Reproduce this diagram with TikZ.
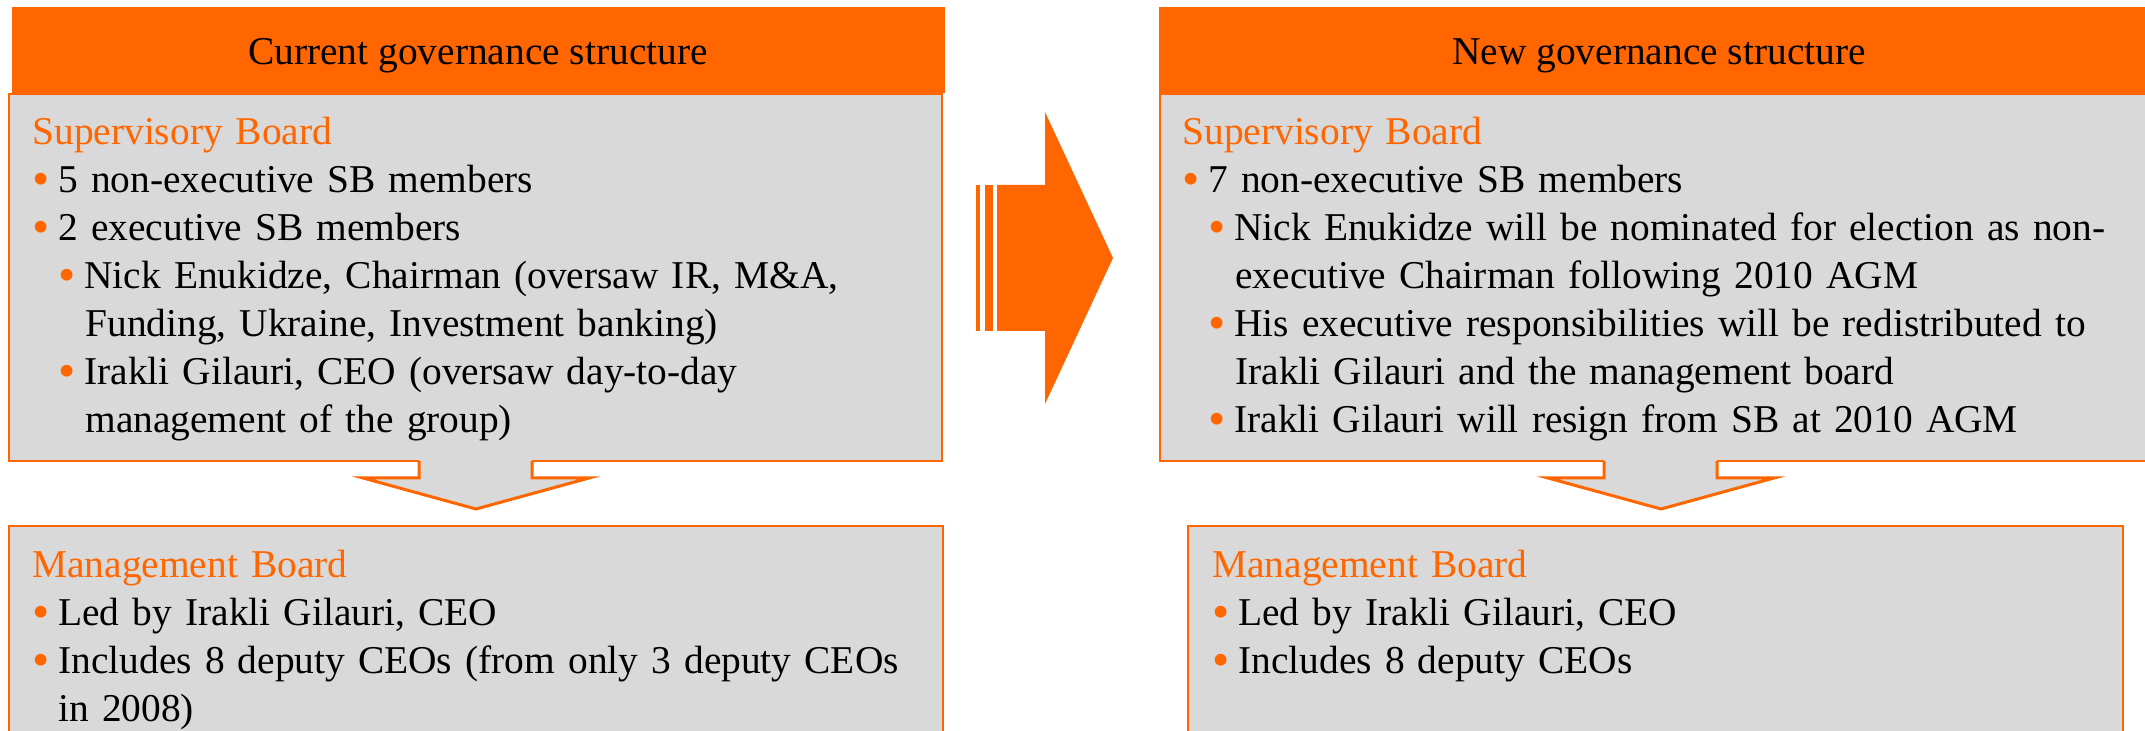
\documentclass[tikz,border=0pt]{standalone}
\usepackage{fontspec}
\setmainfont{Liberation Serif}
\definecolor{orng}{HTML}{FF6600}
\definecolor{boxgray}{HTML}{D9D9D9}
% bullets of the two list levels
\newcommand{\bul}{\makebox[13pt][l]{\raisebox{-1.5pt}{\scalebox{1.25}{\textcolor{orng}{\char"2022}}}}}
\newcommand{\subbul}{\hspace*{13pt}\bul}
\newcommand{\cont}{\hspace*{26.5pt}}
\newcommand{\boardname}[1]{\textcolor{orng}{#1}}
\tikzset{
  header/.style={fill=orng},
  panel/.style={fill=boxgray,draw=orng,line width=1.3pt},
  downarrow/.style={draw=orng,line width=1.5pt,line join=miter},
  bodytext/.style={anchor=base west,inner sep=0pt,text width=480pt,align=left,
    font=\fontsize{19.7}{24}\selectfont},
  headtext/.style={anchor=base,inner sep=0pt,font=\fontsize{19.7}{24}\selectfont}
}
\begin{document}
\begin{tikzpicture}[x=0.5pt,y=-0.5pt]
    \useasboundingbox (0,0) rectangle (2145,731);
    \clip (0,0) rectangle (2145,731);
    % headers and boxes
    \fill[header] (12,7) rectangle (945,93);
    \fill[header] (1159,7) rectangle (2160,93);
    \draw[panel] (9,94) rectangle (942,461);
    \draw[panel] (1160,94) rectangle (2165,461);
    \draw[panel] (9,526) rectangle (943,760);
    \draw[panel] (1188,526) rectangle (2123,760);
    \node[headtext] (curtitle) at (478,65) {Current governance structure};
    \node[headtext] (newtitle) at (1659,65) {New governance structure};
    % down arrows
    \foreach \c in {476,1661} {
        \fill[boxgray] (\c-57,458) -- (\c-57,478) -- (\c-113,478) -- (\c,509) -- (\c+113,478) -- (\c+56,478) -- (\c+56,458) -- cycle;
        \draw[downarrow] (\c-57,461) -- (\c-57,478) -- (\c-113,478) -- (\c,509) -- (\c+113,478) -- (\c+56,478) -- (\c+56,461);
    }
    % big arrow between the two structures
    \fill[orng] (976,185) rectangle (980,331);
    \fill[orng] (985,185) rectangle (993,331);
    \fill[orng] (997,185) -- (1045,185) -- (1045,112) -- (1113,258) -- (1045,404) -- (1045,331) -- (997,331) -- cycle;
    % box texts
    \node[bodytext] (cursb) at (32,145) {\boardname{Supervisory Board}\\
        \bul 5 non-executive SB members\\
        \bul 2 executive SB members\\
        \subbul Nick Enukidze, Chairman (oversaw IR, M\&A,\\
        \cont Funding, Ukraine, Investment banking)\\
        \subbul Irakli Gilauri, CEO (oversaw day-to-day\\
        \cont management of the group)};
    \node[bodytext] (curmb) at (32,577) {\boardname{Management Board}\\
        \bul Led by Irakli Gilauri, CEO\\
        \bul Includes 8 deputy CEOs (from only 3 deputy CEOs\\
        \hspace*{13pt}in 2008)};
    \node[bodytext] (newsb) at (1182,145) {\boardname{Supervisory Board}\\
        \bul 7 non-executive SB members\\
        \subbul Nick Enukidze will be nominated for election as non-\\
        \cont executive Chairman following 2010 AGM\\
        \subbul His executive responsibilities will be redistributed to\\
        \cont Irakli Gilauri and the management board\\
        \subbul Irakli Gilauri will resign from SB at 2010 AGM};
    \node[bodytext] (newmb) at (1212,577) {\boardname{Management Board}\\
        \bul Led by Irakli Gilauri, CEO\\
        \bul Includes 8 deputy CEOs};
\end{tikzpicture}
\end{document}
